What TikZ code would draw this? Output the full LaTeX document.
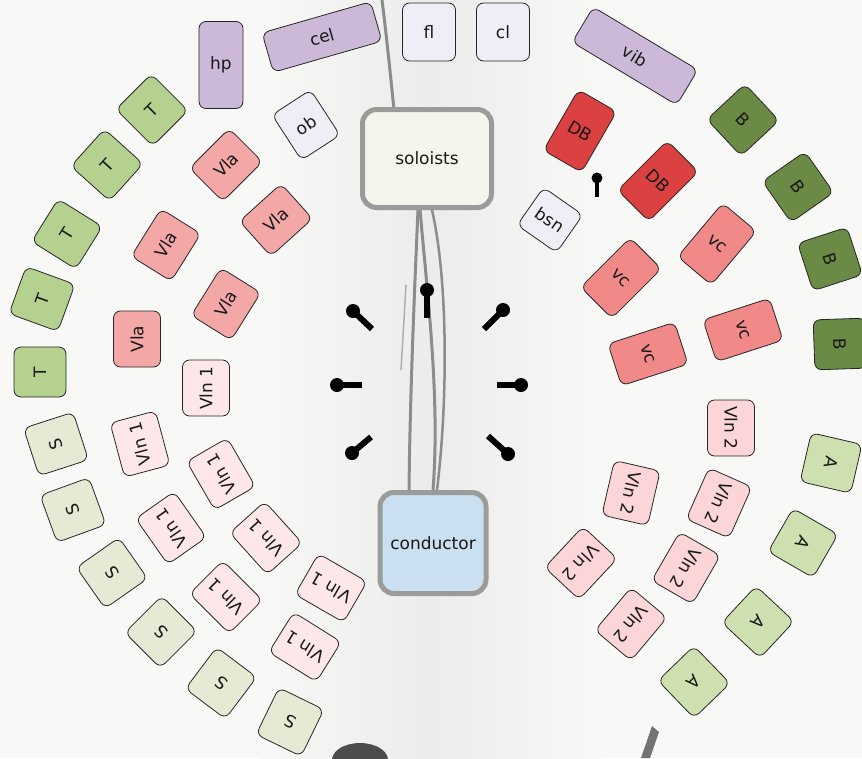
\documentclass[tikz,border=0pt]{standalone}
\usepackage{fontspec}
\setmainfont{DejaVu Sans}
\usepackage{tikz}

\definecolor{paper}{HTML}{F8F8F6}
\definecolor{pencil}{HTML}{8C8C8C}
\definecolor{frame}{HTML}{9B9B9B}
\definecolor{tenorgreen}{HTML}{B5D18F}
\definecolor{sopgreen}{HTML}{E5EAD5}
\definecolor{altogreen}{HTML}{CEE0B0}
\definecolor{bassgreen}{HTML}{6B8A46}
\definecolor{violared}{HTML}{F4A7A7}
\definecolor{firstpink}{HTML}{FDE7E8}
\definecolor{secondpink}{HTML}{FBD5D7}
\definecolor{cellored}{HTML}{F08987}
\definecolor{bassred}{HTML}{DB4141}
\definecolor{perclilac}{HTML}{CCB9D8}
\definecolor{windlilac}{HTML}{EFEDF5}
\definecolor{soloistfill}{HTML}{F4F5EC}
\definecolor{conductorfill}{HTML}{CADFF0}

\begin{document}
\begin{tikzpicture}[x=1pt, y=-1pt,
  every node/.style={inner sep=0pt, font=\fontsize{17}{20}\selectfont, text=black!90},
  seat/.style={draw=black!85, line width=0.8pt, rounded corners=7pt},
  square/.style={seat, minimum width=50pt, minimum height=52pt},
  stand/.style={seat, minimum width=56pt, minimum height=47pt},
  low/.style={seat, minimum width=44pt, minimum height=70pt},
  bar/.style={seat, minimum height=41pt},
  lead/.style={draw=frame, line width=5pt, rounded corners=14pt},
  mic/.style={line width=6pt}]
  \fill[paper] (0,0) rectangle (862,758);
  \useasboundingbox (0,0) rectangle (862,758);
  \shade[left color=paper, right color=paper, middle color=gray!15] (260,0) rectangle (600,758);
  \draw[pencil, line width=3pt, line cap=round] (382,0) .. controls (387,40) and (391,80) .. (394,110);
  \draw[pencil, line width=3pt, line cap=round] (418,210) .. controls (414,300) and (410,400) .. (409,490);
  \draw[pencil, line width=3pt, line cap=round] (420,210) .. controls (428,300) and (440,400) .. (433,490);
  \draw[pencil, line width=2.5pt, line cap=round] (432,210) .. controls (448,280) and (448,400) .. (437,490);
  \draw[pencil!70, line width=1.5pt] (406,285) -- (401,370);
  \fill[black!70] (360,760) ellipse [x radius=28pt, y radius=17pt];
  \fill[black!55] (652,726) -- (659,732) -- (650,758) -- (641,758) -- cycle;

  \node[seat, fill=perclilac, minimum width=44pt, minimum height=87pt] (hp) at (221,65) {hp};
  \node[bar, fill=perclilac, minimum width=113pt, rotate=16] (cel) at (322,37) {cel};
  \node[seat, fill=windlilac, minimum width=53pt, minimum height=58pt] (fl) at (429,32) {fl};
  \node[seat, fill=windlilac, minimum width=53pt, minimum height=58pt] (cl) at (503,32) {cl};
  \node[bar, fill=perclilac, minimum width=122pt, rotate=-31] (vib) at (635,56) {vib};
  \node[seat, fill=windlilac, minimum width=46pt, minimum height=54pt, rotate=33] (ob) at (306,125) {ob};
  \node[seat, fill=windlilac, minimum width=48pt, minimum height=46pt, rotate=-35] (bsn) at (550,220) {bsn};
  \node[lead, fill=soloistfill, minimum width=129pt, minimum height=98pt] (soloists) at (427,158.5) {soloists};
  \node[lead, fill=conductorfill, minimum width=106pt, minimum height=101pt] (conductor) at (433,543) {conductor};

  \node[low, fill=bassred, rotate=-30] (db1) at (580,131) {DB};
  \node[low, fill=bassred, rotate=-45] (db2) at (658,181) {DB};

  \node[square, fill=bassgreen, rotate=-47] (b1) at (743,120) {B};
  \node[square, fill=bassgreen, rotate=-55] (b2) at (798,187) {B};
  \node[square, fill=bassgreen, rotate=-72] (b3) at (830,259) {B};
  \node[square, fill=bassgreen, rotate=-88] (b4) at (840,344) {B};

  \node[low, fill=cellored, rotate=-45] (vc1) at (621,278) {vc};
  \node[low, fill=cellored, rotate=-40] (vc2) at (717,244) {vc};
  \node[low, fill=cellored, rotate=-72] (vc3) at (648,354) {vc};
  \node[low, fill=cellored, rotate=-72] (vc4) at (743,330) {vc};

  \node[square, fill=tenorgreen, rotate=45] (t1) at (152,110) {T};
  \node[square, fill=tenorgreen, rotate=48] (t2) at (107,165) {T};
  \node[square, fill=tenorgreen, rotate=58] (t3) at (67,234) {T};
  \node[square, fill=tenorgreen, rotate=70] (t4) at (42,299) {T};
  \node[square, fill=tenorgreen, rotate=90] (t5) at (40,372) {T};

  \node[stand, fill=violared, rotate=45] (vla1) at (226,165) {Vla};
  \node[stand, fill=violared, rotate=42] (vla2) at (276,220) {Vla};
  \node[stand, fill=violared, rotate=58] (vla3) at (166,245) {Vla};
  \node[stand, fill=violared, rotate=58] (vla4) at (226,304) {Vla};
  \node[stand, fill=violared, rotate=90] (vla5) at (137,339) {Vla};

  \node[square, fill=sopgreen, rotate=108] (s1) at (56,444) {S};
  \node[square, fill=sopgreen, rotate=110] (s2) at (73,510) {S};
  \node[square, fill=sopgreen, rotate=125] (s3) at (112,573) {S};
  \node[square, fill=sopgreen, rotate=135] (s4) at (161,632) {S};
  \node[square, fill=sopgreen, rotate=143] (s5) at (221,683) {S};
  \node[square, fill=sopgreen, rotate=154] (s6) at (290,722) {S};

  \node[stand, fill=firstpink, rotate=90] (vlnI1) at (206,388) {Vln 1};
  \node[stand, fill=firstpink, rotate=105] (vlnI2) at (140,444) {Vln 1};
  \node[stand, fill=firstpink, rotate=120] (vlnI3) at (221,474) {Vln 1};
  \node[stand, fill=firstpink, rotate=125] (vlnI4) at (171,528) {Vln 1};
  \node[stand, fill=firstpink, rotate=132] (vlnI5) at (266,538) {Vln 1};
  \node[stand, fill=firstpink, rotate=135] (vlnI6) at (226,597) {Vln 1};
  \node[stand, fill=firstpink, rotate=150] (vlnI7) at (331,588) {Vln 1};
  \node[stand, fill=firstpink, rotate=148] (vlnI8) at (305,647) {Vln 1};

  \node[stand, fill=secondpink, rotate=-90] (vlnII1) at (731,428) {Vln 2};
  \node[stand, fill=secondpink, rotate=-103] (vlnII2) at (631,493) {Vln 2};
  \node[stand, fill=secondpink, rotate=-114] (vlnII3) at (719,503) {Vln 2};
  \node[stand, fill=secondpink, rotate=-133] (vlnII4) at (581,563) {Vln 2};
  \node[stand, fill=secondpink, rotate=-120] (vlnII5) at (686,568) {Vln 2};
  \node[stand, fill=secondpink, rotate=-130] (vlnII6) at (631,624) {Vln 2};

  \node[square, fill=altogreen, rotate=-103] (a1) at (831,463) {A};
  \node[square, fill=altogreen, rotate=-120] (a2) at (803,543) {A};
  \node[square, fill=altogreen, rotate=-133] (a3) at (758,622) {A};
  \node[square, fill=altogreen, rotate=-136] (a4) at (694,682) {A};

  \foreach \cx/\cy/\ex/\ey in {427/290/427/318, 353/311/372/329, 337/385/362/385, 352/453/371/437,
                               503/310/484/329, 521/385/497/385, 508/454/488/436}{
    \draw[mic] (\cx,\cy) -- (\ex,\ey);
    \fill (\cx,\cy) circle (7pt);
  }
  \draw[line width=4.5pt] (597,178) -- (597,197);
  \fill (597,178) circle (5.5pt);
\end{tikzpicture}
\end{document}
